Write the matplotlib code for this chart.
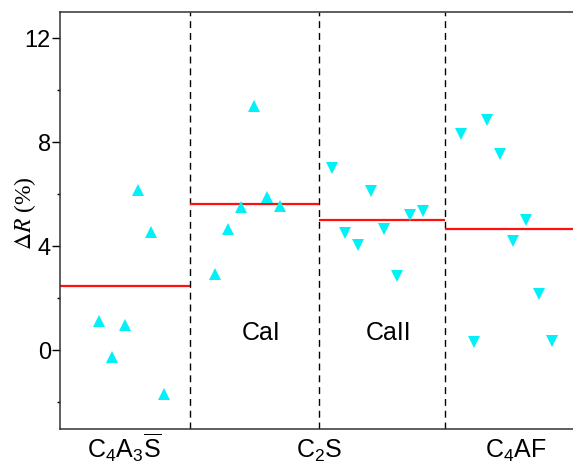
import matplotlib.pyplot as plt
import matplotlib.transforms as mtransforms
import numpy as np

plt.rcParams['mathtext.fontset'] = 'custom'
plt.rcParams['mathtext.rm'] = 'Liberation Sans'
plt.rcParams['mathtext.it'] = 'Liberation Sans:italic'
plt.rcParams['font.family'] = ['Liberation Sans', 'DejaVu Sans']

# sample positions and delta R values per phase
x_c4a3s = [3, 4, 5, 6, 7, 8]
y_c4a3s = [1.12, -0.27, 0.96, 6.15, 4.54, -1.69]
x_cai = [12, 13, 14, 15, 16, 17]
y_cai = [2.92, 4.65, 5.5, 9.38, 5.88, 5.54]
x_caii = [21, 22, 23, 24, 25, 26, 27, 28]
y_caii = [7.0, 4.5, 4.04, 6.12, 4.65, 2.85, 5.19, 5.35]
x_c4af = [31, 32, 33, 34, 35, 36, 37, 38]
y_c4af = [8.31, 0.3, 8.85, 7.54, 4.2, 5.0, 2.15, 0.35]

# group boundaries and group mean levels
edges = [0, 10, 20, 29.7, 40]
means = [2.46, 5.62, 5.0, 4.65]

group_labels = [r'C$_4$A$_3\overline{\mathrm{S}}$', r'C$_2$S', r'C$_4$AF']
group_label_x = [5.0, 20, 35.2]
sub_labels = ['CaI', 'CaII']
sub_label_x = [15.5, 25.4]

cyan = '#00F2F8'

fig = plt.figure(figsize=(5.73, 4.64), dpi=100)
ax = fig.add_axes([60 / 573, 34 / 464, 518 / 573, 417 / 464])

for xs, ys, m in [(x_c4a3s, y_c4a3s, '^'), (x_cai, y_cai, '^'),
                  (x_caii, y_caii, 'v'), (x_c4af, y_c4af, 'v')]:
    ax.plot(xs, ys, ls='none', marker=m, ms=9, mew=0, color=cyan, zorder=3)

for i in range(len(means)):
    ax.hlines(means[i], edges[i], edges[i + 1], color='#FF1010', lw=1.6, zorder=2)

for e in edges[1:-1]:
    ax.axvline(e, color='black', lw=1.0, dashes=(5, 3.5), zorder=1)

for x, t in zip(sub_label_x, sub_labels):
    ax.text(x, 0.7, t, ha='center', va='center', fontsize=18)

# group names under the axis, all on one baseline
trans = mtransforms.blended_transform_factory(ax.transData, ax.transAxes)
for x, t in zip(group_label_x, group_labels):
    ax.text(x, -28 / 417, t, transform=trans, ha='center', va='baseline',
            fontsize=18, clip_on=False)

ax.set_xlim(edges[0], edges[-1])
ax.set_ylim(-3.04, 13.0)
ax.set_xticks([])

ax.set_yticks([0, 4, 8, 12])
ax.set_yticks([-2, 2, 6, 10], minor=True)
ax.tick_params(axis='y', which='major', length=5.5, width=1, labelsize=17, pad=1)
ax.tick_params(axis='y', which='minor', length=2.5, width=1)

for s in ax.spines.values():
    s.set_linewidth(1.1)
    s.set_color('#333333')

ax.set_ylabel(r'$\Delta R$ (%)', fontsize=17, family='Liberation Serif',
              math_fontfamily='stix')
ax.yaxis.set_label_coords(-0.043, 0.52)

fig.savefig('out.png', dpi=100)
